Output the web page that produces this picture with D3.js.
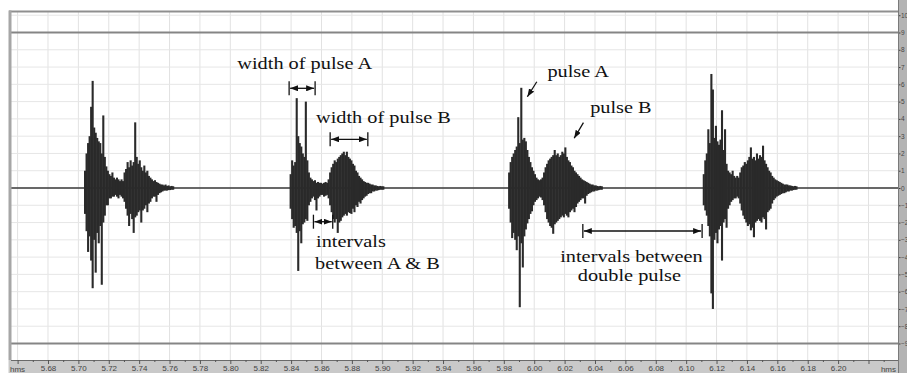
<!DOCTYPE html>
<html>
<head>
<meta charset="utf-8">
<script src="https://cdn.jsdelivr.net/npm/d3@7/dist/d3.min.js"></script>
<style>
    html, body { margin: 0; padding: 0; background: #fff; overflow: hidden; }
    svg { display: block; }
    .ann { font-family: "Liberation Serif", "Times New Roman", serif; font-size: 16px; fill: #111; }
    .axis text { font-family: "Liberation Sans", Arial, sans-serif; font-size: 8px; fill: #444; }
    .axis.amp text { font-size: 6.5px; }
</style>
</head>
<body>
<div id="chart"></div>
<script>
const W = 907, H = 373;

// envelope of the recording (max / min per 1 ms) for each double pulse
const sampleStep = 0.001;
const burstStarts = [5.7044, 5.8397, 5.9835, 6.1116];

const burst1Hi = [1.0, 2.0, 2.6, 3.0, 4.7, 6.2, 3.5, 3.2, 2.9, 2.7, 2.6, 2.0, 4.2, 1.8, 1.25, 1.0, 0.8, 0.7, 0.9, 0.6,
    0.5, 0.6, 0.5, 0.4, 0.5, 0.4, 0.9, 1.1, 1.5, 1.2, 1.6, 1.3, 1.5, 3.8, 1.8, 1.4, 1.6, 1.2, 1.0, 1.3,
    0.9, 1.0, 0.7, 0.6, 0.5, 0.4, 0.45, 0.35, 0.3, 0.25, 0.2, 0.2, 0.15, 0.2, 0.12, 0.15, 0.1, 0.12, 0.1];
const burst1Lo = [-1.5, -2.5, -3.7, -2.8, -4.2, -5.8, -3.0, -4.9, -2.6, -3.2, -2.2, -5.6, -2.0, -1.6, -1.0, -1.0, -0.6, -0.6, -0.5, -0.5,
    -0.4, -0.5, -0.6, -0.4, -0.5, -0.6, -0.8, -1.2, -1.6, -2.2, -1.5, -1.8, -2.6, -1.7, -1.6, -1.4, -1.3, -2.0, -1.3, -1.2,
    -1.0, -1.4, -0.9, -0.8, -0.6, -0.5, -0.5, -0.8, -0.4, -0.3, -0.25, -0.2, -0.15, -0.15, -0.15, -0.12, -0.12, -0.1, -0.1];

const burst2Hi = [0.8, 1.6, 1.3, 1.5, 5.2, 3.0, 2.6, 2.4, 2.0, 1.8, 5.0, 1.6, 0.9, 0.6, 0.5, 0.4, 0.45, 0.3, 0.35, 0.3,
    0.3, 0.25, 0.3, 0.35, 0.3, 0.5, 0.9, 1.2, 1.4, 1.6, 1.5, 1.7, 1.8, 1.9, 2.0, 2.1, 1.9, 2.1, 1.8, 1.7,
    1.6, 1.4, 1.3, 1.0, 0.9, 0.7, 0.6, 0.5, 0.4, 0.35, 0.3, 0.3, 0.25, 0.2, 0.2, 0.15, 0.15, 0.12, 0.1, 0.12, 0.1, 0.1];
const burst2Lo = [-1.2, -1.8, -2.3, -2.2, -2.6, -4.8, -2.5, -3.2, -2.1, -2.0, -1.8, -1.9, -1.0, -0.8, -0.6, -0.5, -0.7, -1.3, -0.6, -0.5,
    -0.4, -0.4, -0.5, -0.45, -0.4, -0.6, -1.0, -1.4, -1.8, -2.0, -1.8, -2.6, -2.0, -1.9, -1.7, -1.6, -1.5, -1.6, -1.4, -1.45,
    -1.5, -1.2, -1.4, -1.0, -1.1, -0.8, -0.9, -0.7, -0.6, -0.5, -0.45, -0.35, -0.3, -0.3, -0.2, -0.2, -0.15, -0.15, -0.12, -0.1, -0.1, -0.1];

const burst3Hi = [0.9, 1.5, 1.8, 2.0, 2.2, 2.4, 4.1, 2.6, 5.8, 2.8, 2.9, 2.7, 2.2, 1.8, 1.5, 1.2, 1.0, 0.8, 0.6, 0.5,
    0.45, 0.5, 0.6, 0.9, 1.2, 1.4, 1.6, 1.7, 1.8, 1.9, 2.2, 1.9, 2.0, 1.8, 1.9, 2.1, 2.0, 2.35, 1.8, 1.6,
    1.5, 1.3, 1.2, 1.0, 0.9, 0.8, 0.7, 0.6, 0.5, 0.45, 0.4, 0.35, 0.3, 0.25, 0.2, 0.2, 0.15, 0.15, 0.12, 0.1, 0.12, 0.1];
const burst3Lo = [-1.2, -2.0, -2.9, -2.6, -3.0, -3.6, -2.8, -6.9, -3.2, -4.6, -2.8, -2.4, -2.05, -1.8, -1.5, -1.35, -1.0, -0.8, -0.7, -0.6,
    -0.5, -0.55, -0.7, -1.0, -1.4, -1.8, -2.0, -2.2, -2.3, -2.65, -2.1, -2.0, -1.9, -1.8, -1.7, -1.6, -1.7, -1.5, -1.6, -1.7,
    -1.4, -1.3, -1.2, -1.4, -1.1, -0.9, -0.8, -0.7, -0.6, -0.6, -0.9, -0.45, -0.35, -0.3, -0.25, -0.2, -0.2, -0.15, -0.15, -0.12, -0.1, -0.1];

const burst4Hi = [0.8, 1.6, 2.0, 3.4, 2.6, 6.6, 5.7, 2.9, 3.6, 2.7, 2.5, 2.8, 4.5, 2.2, 3.4, 1.4, 1.0, 0.9, 0.8, 1.0,
    0.7, 0.6, 0.7, 0.6, 0.9, 1.2, 1.3, 1.5, 1.4, 1.6, 1.8, 2.35, 1.7, 1.8, 1.6, 2.0, 1.7, 1.9, 1.8, 2.45,
    1.6, 1.4, 1.2, 1.0, 0.9, 0.7, 0.6, 0.5, 0.45, 0.4, 0.35, 0.3, 0.25, 0.2, 0.2, 0.2, 0.15, 0.15, 0.12, 0.1, 0.12, 0.1];
const burst4Lo = [-1.0, -1.3, -1.6, -2.2, -2.8, -6.1, -7.0, -3.0, -2.6, -3.2, -2.4, -2.2, -4.2, -2.0, -1.8, -2.3, -1.2, -1.0, -0.8, -0.7,
    -0.6, -0.6, -0.5, -0.6, -0.9, -1.3, -1.6, -1.8, -2.0, -2.2, -2.1, -2.45, -2.3, -2.85, -2.0, -1.9, -1.8, -1.9, -2.0, -1.7,
    -1.8, -2.4, -1.4, -1.3, -1.2, -0.9, -0.7, -0.6, -0.5, -0.45, -0.4, -0.35, -0.3, -0.3, -0.25, -0.2, -0.2, -0.15, -0.15, -0.12, -0.1, -0.1];

const bursts = [[burst1Hi, burst1Lo], [burst2Hi, burst2Lo], [burst3Hi, burst3Lo], [burst4Hi, burst4Lo]];

// axis labels
const timeLabels = ["5.68", "5.70", "5.72", "5.74", "5.76", "5.78", "5.80", "5.82", "5.84", "5.86", "5.88", "5.90", "5.92",
    "5.94", "5.96", "5.98", "6.00", "6.02", "6.04", "6.06", "6.08", "6.10", "6.12", "6.14", "6.16", "6.18", "6.20"];
const ampLabels = [10, 9, 8, 7, 6, 5, 4, 3, 2, 1, 0, -1, -2, -3, -4, -5, -6, -7, -8, -9];
const clipLevel = 9;

// annotations, in time (s) / amplitude units
const spanArrows = [
    {t0: 5.8387, t1: 5.8558, v: 5.77},   // width of pulse A
    {t0: 5.8657, t1: 5.8905, v: 2.82},   // width of pulse B
    {t0: 5.8547, t1: 5.8674, v: -1.95},  // interval A-B
    {t0: 6.0320, t1: 6.1105, v: -2.49}   // interval between double pulses
];
const pointerArrows = [
    {t0: 6.0017, v0: 6.15, t1: 5.9955, v1: 5.28},  // pulse A
    {t0: 6.0324, v0: 3.78, t1: 6.0263, v1: 2.88}   // pulse B
];
const labels = [
    {text: "width of pulse A", t: 5.8046, v: 6.87},
    {text: "width of pulse B", t: 5.8564, v: 3.76},
    {text: "intervals", t: 5.8564, v: -3.42},
    {text: "between A & B", t: 5.8558, v: -4.66},
    {text: "pulse A", t: 6.0087, v: 6.44},
    {text: "pulse B", t: 6.0368, v: 4.34},
    {text: "intervals between", t: 6.0171, v: -4.28},
    {text: "double pulse", t: 6.0287, v: -5.36}
];

const plot = {left: 11, right: 898, top: 12, bottom: 360};

const x = d3.scaleLinear().domain([5.66, 6.20]).range([17.6, 838.1]);
const y = d3.scaleLinear().domain([-9, 9]).range([343.5, 32.5]);

const svg = d3.select("#chart").append("svg")
    .attr("width", W)
    .attr("height", H)
    .attr("viewBox", `0 0 ${W} ${H}`);

svg.append("defs").append("clipPath").attr("id", "plotClip")
    .append("rect")
    .attr("x", plot.left).attr("y", plot.top)
    .attr("width", plot.right - plot.left).attr("height", plot.bottom - plot.top);

const marker = svg.select("defs").append("marker")
    .attr("id", "head")
    .attr("viewBox", "0 0 8 6")
    .attr("refX", 8).attr("refY", 3)
    .attr("markerWidth", 8).attr("markerHeight", 6)
    .attr("markerUnits", "userSpaceOnUse")
    .attr("orient", "auto-start-reverse");
marker.append("path").attr("d", "M0,0 L8,3 L0,6 Z").attr("fill", "#111");

const body = svg.append("g").attr("clip-path", "url(#plotClip)");

// grid
const gridTimes = d3.range(0, 29).map(i => 5.66 + i * 0.02);
body.append("g").selectAll("line").data(gridTimes).join("line")
    .attr("x1", d => x(d)).attr("x2", d => x(d))
    .attr("y1", plot.top).attr("y2", plot.bottom)
    .attr("stroke", "#e2e2e2").attr("stroke-width", 1);

body.append("g").selectAll("line").data(d3.range(-10, 11)).join("line")
    .attr("x1", plot.left).attr("x2", plot.right)
    .attr("y1", d => y(d)).attr("y2", d => y(d))
    .attr("stroke", "#e6e6e6").attr("stroke-width", 1);

// clip level lines
body.append("g").selectAll("line").data([clipLevel, -clipLevel]).join("line")
    .attr("x1", plot.left).attr("x2", plot.right)
    .attr("y1", d => y(d)).attr("y2", d => y(d))
    .attr("stroke", "#858585").attr("stroke-width", 2);

// baseline
body.append("line")
    .attr("x1", plot.left).attr("x2", plot.right)
    .attr("y1", y(0)).attr("y2", y(0))
    .attr("stroke", "#3a3a3a").attr("stroke-width", 1.4);

// waveform
const wave = body.append("g");
bursts.forEach(([hi, lo], b) => {
    const samples = hi.map((h, i) => ({t: burstStarts[b] + i * sampleStep, hi: h, lo: lo[i]}))
        .filter(d => d.lo !== undefined);
    wave.append("g").selectAll("line").data(samples).join("line")
        .attr("x1", d => x(d.t)).attr("x2", d => x(d.t))
        .attr("y1", d => y(d.hi)).attr("y2", d => y(d.lo))
        .attr("stroke", "#2a2a2a").attr("stroke-width", 2.1);
});

// frame
svg.append("line")
    .attr("x1", plot.left - 2).attr("x2", plot.right)
    .attr("y1", plot.top - 0.5).attr("y2", plot.top - 0.5)
    .attr("stroke", "#8f8f8f").attr("stroke-width", 2);
svg.append("rect")
    .attr("x", 8.5).attr("y", plot.top - 1.5)
    .attr("width", 3).attr("height", plot.bottom - plot.top + 1.5)
    .attr("fill", "#a6a6a6");

// bottom time ruler
svg.append("rect")
    .attr("x", 8.5).attr("y", plot.bottom)
    .attr("width", W - 8.5).attr("height", H - plot.bottom)
    .attr("fill", "#c9c9c9");

const rulerTicks = d3.range(0, 58).map(i => 5.66 + i * 0.01);
const xAxis = d3.axisBottom(x)
    .tickValues(rulerTicks)
    .tickSize(4)
    .tickPadding(1)
    .tickFormat(d => {
        const s = d3.format(".2f")(d);
        return timeLabels.includes(s) ? s : "";
    });
const gx = svg.append("g").attr("class", "axis")
    .attr("transform", `translate(0,${plot.bottom})`)
    .call(xAxis);
gx.select(".domain").attr("stroke", "#6a6a6a").attr("d", `M${plot.left},0.5H${plot.right}`);
gx.selectAll(".tick line").attr("stroke", "#555")
    .attr("y2", (d, i) => i % 2 === 0 ? 4 : 2);
gx.selectAll(".tick text").attr("dy", "0.72em");
gx.append("text").attr("x", 10).attr("y", 11.5).attr("text-anchor", "start").text("hms");
gx.append("text").attr("x", 896).attr("y", 11.5).attr("text-anchor", "end").text("hms");

// right amplitude ruler
svg.append("rect")
    .attr("x", plot.right).attr("y", 0)
    .attr("width", W - plot.right).attr("height", H)
    .attr("fill", "#b3b3b3");
const yAxis = d3.axisRight(y)
    .tickValues(ampLabels)
    .tickSize(2)
    .tickPadding(0.5)
    .tickFormat(d3.format("d"));
const gy = svg.append("g").attr("class", "axis amp")
    .attr("transform", `translate(${plot.right + 0.5},0)`)
    .call(yAxis);
gy.select(".domain").attr("stroke", "#555").attr("stroke-dasharray", "1,2")
    .attr("d", `M0,0V${plot.bottom}`);
gy.selectAll(".tick line").attr("stroke", "#444");
gy.selectAll(".tick text").attr("fill", "#333");
svg.append("line")
    .attr("x1", plot.right + 0.5).attr("x2", plot.right + 0.5)
    .attr("y1", 0).attr("y2", H)
    .attr("stroke", "#7a7a7a").attr("stroke-width", 1);

// annotations
const ann = svg.append("g");
const barHalf = 7;
spanArrows.forEach(a => {
    ann.append("line")
        .attr("x1", x(a.t0) + 1).attr("x2", x(a.t1) - 1)
        .attr("y1", y(a.v)).attr("y2", y(a.v))
        .attr("stroke", "#111").attr("stroke-width", 1.3)
        .attr("marker-start", "url(#head)").attr("marker-end", "url(#head)");
    [a.t0, a.t1].forEach(t => {
        ann.append("line")
            .attr("x1", x(t)).attr("x2", x(t))
            .attr("y1", y(a.v) - barHalf).attr("y2", y(a.v) + barHalf)
            .attr("stroke", "#111").attr("stroke-width", 1.3);
    });
});
pointerArrows.forEach(a => {
    ann.append("line")
        .attr("x1", x(a.t0)).attr("y1", y(a.v0))
        .attr("x2", x(a.t1)).attr("y2", y(a.v1))
        .attr("stroke", "#111").attr("stroke-width", 1.3)
        .attr("marker-end", "url(#head)");
});
ann.selectAll("text").data(labels).join("text")
    .attr("class", "ann")
    .attr("transform", d => `translate(${x(d.t)},${y(d.v)}) scale(1.27,1)`)
    .text(d => d.text);
</script>
</body>
</html>
